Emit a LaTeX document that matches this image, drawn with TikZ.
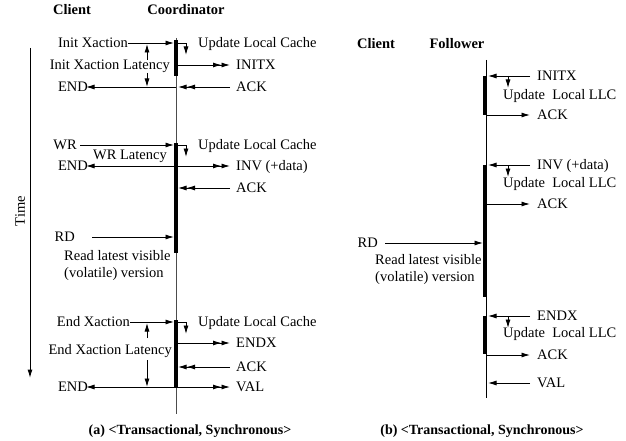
\documentclass[tikz,border=0pt]{standalone}
\usepackage{fontspec}
\setmainfont{Liberation Serif}
\usetikzlibrary{arrows.meta}

\begin{document}
\begin{tikzpicture}[x=1pt,y=-1pt,
  lbl/.style={inner sep=0pt, text height=9.6pt, text depth=0pt,
              font=\fontsize{14.5}{16}\selectfont},
  hdr/.style={inner sep=0pt, text height=9.6pt, text depth=0pt,
              font=\fontsize{14.5}{16}\selectfont\bfseries},
  captext/.style={inner sep=0pt, text height=9.4pt, text depth=0pt,
              font=\fontsize{14}{16}\selectfont\bfseries},
  headtip/.tip={Latex[length=8.5pt,width=5pt]},
  msg/.style={line width=0.9pt, -headtip},
  msgtwo/.style={line width=0.9pt, -{headtip[]headtip[]}},
  actbar/.style={line width=4pt},
  lifeline/.style={line width=1pt},
  timeline/.style={line width=1pt, -headtip}]
\useasboundingbox (0,0) rectangle (626,441);

% ---------------- (a) client / coordinator ----------------
\node[hdr] (clA) at (72,10) {Client};
\node[hdr] (coord) at (186,10) {Coordinator};

\coordinate (cTop) at (176,38);
\coordinate (cBot) at (176,414);
\draw[lifeline, draw=black!70] (cTop) -- (cBot);

% time axis
\coordinate (tA) at (30,48);
\coordinate (tB) at (30,378);
\draw[timeline] (tA) -- (tB);
\node[lbl, rotate=90, anchor=center] (time) at (20,211) {Time};

% activity bars on the coordinator
\draw[actbar] (176,40) -- (176,76);
\draw[actbar] (176,143) -- (176,253);
\draw[actbar] (176,320) -- (176,388);

% init transaction
\node[lbl, anchor=east] (ix) at (128,43) {Init Xaction};
\node[lbl, anchor=west] (ulcA) at (198,43) {Update Local Cache};
\node[lbl, anchor=east] (ixl) at (170,65) {Init Xaction Latency};
\node[lbl, anchor=west] (initx) at (236,65) {INITX};
\node[lbl, anchor=east] (endA) at (88,87) {END};
\node[lbl, anchor=west] (ackA) at (236,87) {ACK};

\coordinate (ixIn) at (174,43);
\coordinate (c43) at (176,43);
\coordinate (c65) at (176,65);
\coordinate (c87) at (176,87);
\coordinate (c87r) at (178,87);
\draw[msg] (ix.east) -- (ixIn);
\draw[msg] (c43) -- (186,43) -- (186,55);
\draw[msgtwo] (c65) -- ([xshift=-6pt]initx.west);
\draw[msgtwo] ([xshift=-6pt]ackA.west) -- (c87r);
\draw[msg] (c87) -- ([xshift=-2pt]endA.east);
\draw[msg] (147,60) -- (147,44);
\draw[msg] (147,73) -- (147,87);

% write
\node[lbl, anchor=east] (wr) at (77,145) {WR};
\node[lbl, anchor=west] (ulcB) at (198,145) {Update Local Cache};
\node[lbl, anchor=east] (wrl) at (167,155) {WR Latency};
\node[lbl, anchor=east] (endB) at (88,166) {END};
\node[lbl, anchor=west] (inv) at (236,166) {INV (+data)};
\node[lbl, anchor=west] (ackB) at (236,188) {ACK};

\coordinate (wrIn) at (174,145);
\coordinate (c145) at (176,145);
\coordinate (c166) at (176,166);
\coordinate (c188r) at (178,188);
\draw[msg] ([xshift=3pt]wr.east) -- (wrIn);
\draw[msg] (c145) -- (186,145) -- (186,157);
\draw[msg] (c166) -- ([xshift=-2pt]endB.east);
\draw[msgtwo] (c166) -- ([xshift=-6pt]inv.west);
\draw[msgtwo] ([xshift=-6pt]ackB.west) -- (c188r);

% read
\node[lbl, anchor=east] (rdA) at (75,237) {RD};
\coordinate (rdInA) at (174,237);
\draw[msg] ([xshift=17pt]rdA.east) -- (rdInA);
\node[lbl, anchor=west] (rlvA) at (64,256) {Read latest visible};
\node[lbl, anchor=west] (volA) at (64,273) {(volatile) version};

% end transaction
\node[lbl, anchor=east] (ex) at (130,322) {End Xaction};
\node[lbl, anchor=west] (ulcC) at (198,322) {Update Local Cache};
\node[lbl, anchor=east] (exl) at (172,350) {End Xaction Latency};
\node[lbl, anchor=west] (endx) at (236,343) {ENDX};
\node[lbl, anchor=west] (ackC) at (236,367) {ACK};
\node[lbl, anchor=east] (endC) at (88,387) {END};
\node[lbl, anchor=west] (val) at (236,387) {VAL};

\coordinate (exIn) at (174,322);
\coordinate (c322) at (176,322);
\coordinate (c343) at (176,343);
\coordinate (c367r) at (178,367);
\coordinate (c387) at (176,387);
\draw[msg] (ex.east) -- (exIn);
\draw[msg] (c322) -- (186,322) -- (186,334);
\draw[msgtwo] (c343) -- ([xshift=-6pt]endx.west);
\draw[msgtwo] ([xshift=-6pt]ackC.west) -- (c367r);
\draw[msg] (c387) -- ([xshift=-2pt]endC.east);
\draw[msgtwo] (c387) -- ([xshift=-6pt]val.west);
\draw[msg] (147,338) -- (147,323);
\draw[msg] (147,360) -- (147,387);

\node[captext] (capA) at (190,430) {(a) <Transactional, Synchronous>};

% ---------------- (b) client / follower ----------------
\node[hdr] (clB) at (376,44) {Client};
\node[hdr] (fol) at (457,44) {Follower};

\coordinate (fTop) at (486,60);
\coordinate (fBot) at (486,398);
\draw[lifeline] (fTop) -- (fBot);

\draw[actbar] (485,76) -- (485,115);
\draw[actbar] (485,165) -- (485,297);
\draw[actbar] (485,316) -- (485,354);

% invalidation of the init transaction
\node[lbl, anchor=west] (initxB) at (537,76) {INITX};
\node[lbl, anchor=west] (ullA) at (503,95) {Update~~Local LLC};
\node[lbl, anchor=west] (ackD) at (537,115) {ACK};
\coordinate (f76) at (488,76);
\coordinate (f115) at (486,115);
\draw[msg] ([xshift=-7pt]initxB.west) -- (f76);
\draw[msg] (508,76) -- (508,88);
\draw[msg] (f115) -- ([xshift=-7pt]ackD.west);

% invalidation with data
\node[lbl, anchor=west] (invB) at (537,165) {INV (+data)};
\node[lbl, anchor=west] (ullB) at (503,183) {Update~~Local LLC};
\node[lbl, anchor=west] (ackE) at (537,204) {ACK};
\coordinate (f165) at (488,165);
\coordinate (f204) at (486,204);
\draw[msg] ([xshift=-7pt]invB.west) -- (f165);
\draw[msg] (508,165) -- (508,177);
\draw[msg] (f204) -- ([xshift=-7pt]ackE.west);

% read at the follower
\node[lbl, anchor=east] (rdB) at (378,243) {RD};
\coordinate (rdInB) at (483,243);
\draw[msg] ([xshift=7pt]rdB.east) -- (rdInB);
\node[lbl, anchor=west] (rlvB) at (375,260) {Read latest visible};
\node[lbl, anchor=west] (volB) at (375,277) {(volatile) version};

% end transaction
\node[lbl, anchor=west] (endxB) at (537,316) {ENDX};
\node[lbl, anchor=west] (ullC) at (503,333) {Update~~Local LLC};
\node[lbl, anchor=west] (ackF) at (537,355) {ACK};
\node[lbl, anchor=west] (valB) at (537,383) {VAL};
\coordinate (f316) at (488,316);
\coordinate (f355) at (486,355);
\coordinate (f383) at (488,383);
\draw[msg] ([xshift=-7pt]endxB.west) -- (f316);
\draw[msg] (508,316) -- (508,328);
\draw[msg] (f355) -- ([xshift=-7pt]ackF.west);
\draw[msg] ([xshift=-7pt]valB.west) -- (f383);

\node[captext] (capB) at (482,430) {(b) <Transactional, Synchronous>};
\end{tikzpicture}
\end{document}
